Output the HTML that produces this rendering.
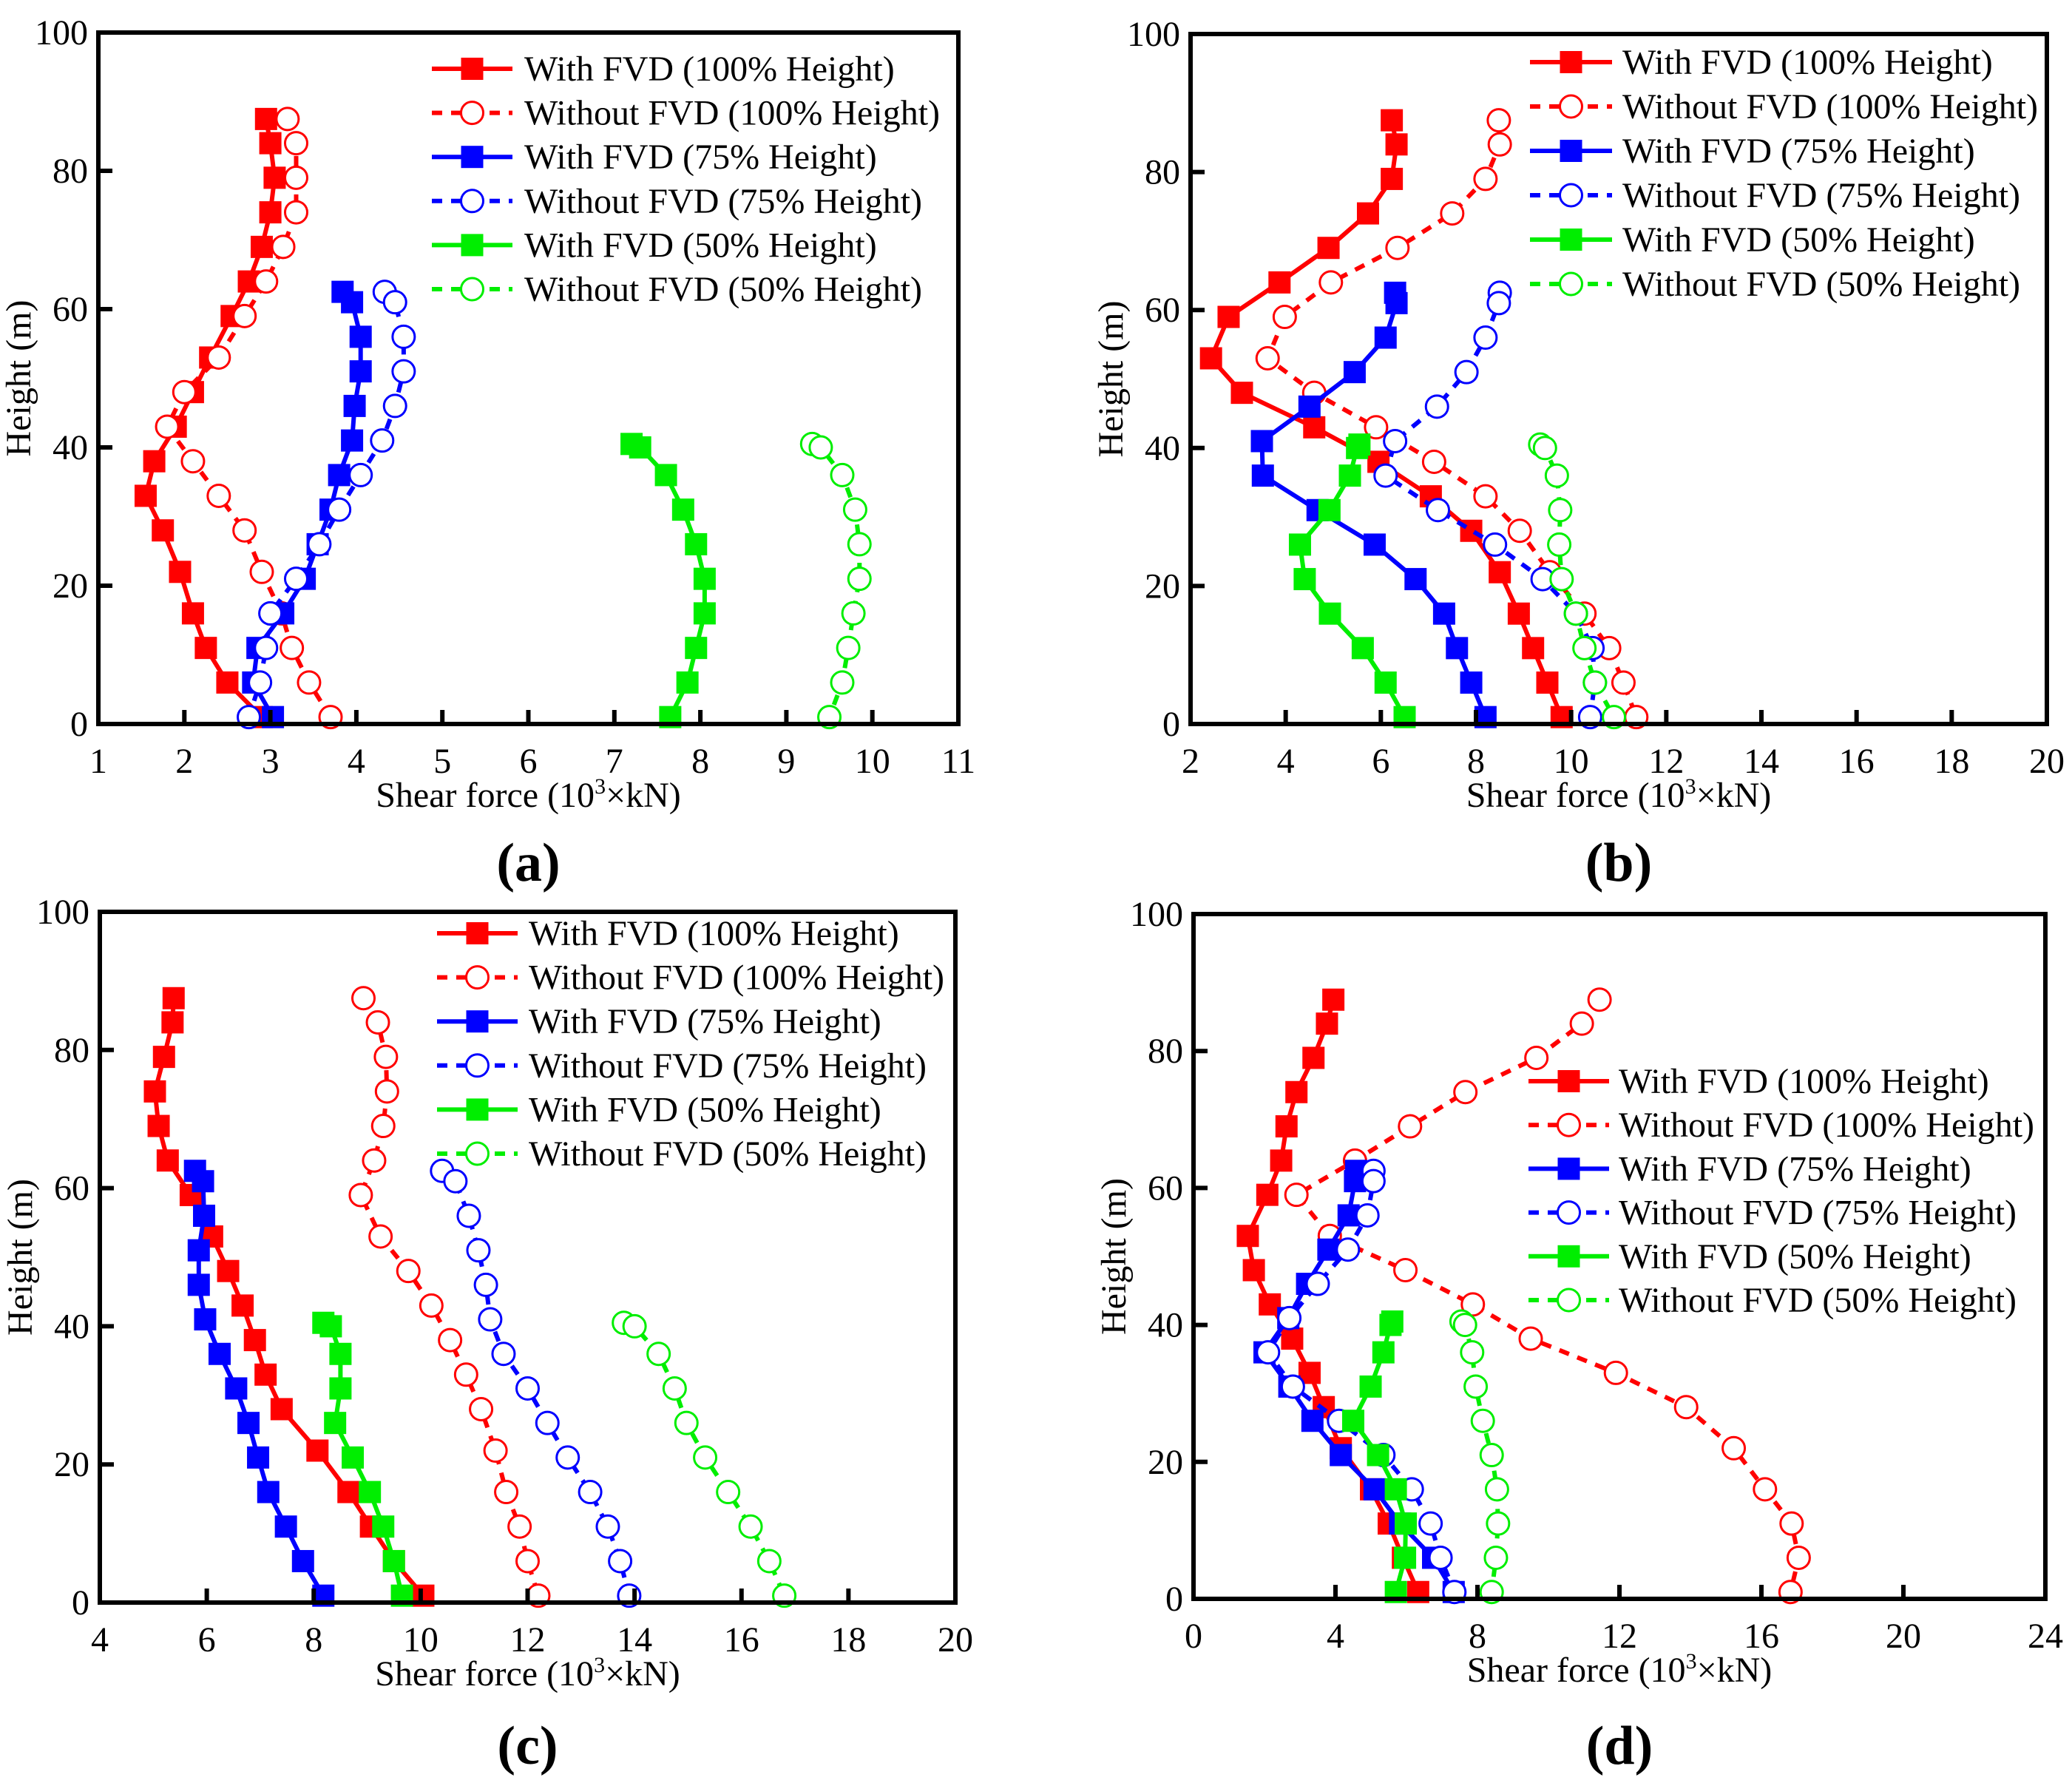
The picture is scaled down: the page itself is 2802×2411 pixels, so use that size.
<!DOCTYPE html>
<html><head><meta charset="utf-8">
<style>
html,body{margin:0;padding:0;background:#fff;}
svg{display:block;}
text{font-family:"Liberation Serif","Times New Roman",serif;}
</style></head>
<body>
<svg id="fig" width="2802" height="2411" viewBox="0 0 2802 2411" xmlns="http://www.w3.org/2000/svg" font-family="Liberation Serif, serif"></svg>
<script>
// Heights (m)
const H100=[87.5,84,79,74,69,64,59,53,48,43,38,33,28,22,16,11,6,1];
const H75=[62.5,61,56,51,46,41,36,31,26,21,16,11,6,1];
const H50=[40.5,40,36,31,26,21,16,11,6,1];
const yTicks=[0,20,40,60,80,100];
// Panel (a)
const aXTicks=[1,2,3,4,5,6,7,8,9,10,11];
const aWith100=[2.95,3.0,3.05,3.0,2.9,2.75,2.55,2.3,2.1,1.9,1.65,1.55,1.75,1.95,2.1,2.25,2.5,2.9];
const aWo100=[3.2,3.3,3.3,3.3,3.15,2.95,2.7,2.4,2.0,1.8,2.1,2.4,2.7,2.9,3.13,3.25,3.45,3.7];
const aWith75=[3.84,3.95,4.05,4.05,3.98,3.95,3.8,3.7,3.55,3.4,3.15,2.85,2.8,3.03];
const aWo75=[4.33,4.45,4.55,4.55,4.45,4.3,4.05,3.8,3.57,3.3,3.0,2.95,2.88,2.75];
const aWith50=[7.2,7.3,7.6,7.8,7.95,8.05,8.05,7.95,7.85,7.65];
const aWo50=[9.3,9.4,9.65,9.8,9.85,9.85,9.78,9.72,9.65,9.5];
// Panel (b)
const bXTicks=[2,4,6,8,10,12,14,16,18,20];
const bWith100=[6.23,6.33,6.23,5.73,4.9,3.87,2.8,2.43,3.08,4.6,5.95,7.05,7.9,8.5,8.9,9.2,9.5,9.8];
const bWo100=[8.48,8.5,8.2,7.5,6.35,4.95,3.98,3.62,4.6,5.9,7.12,8.2,8.92,9.55,10.28,10.8,11.1,11.37];
const bWith75=[6.3,6.33,6.1,5.45,4.5,3.5,3.52,4.67,5.87,6.73,7.33,7.6,7.9,8.2];
const bWo75=[8.5,8.48,8.2,7.8,7.18,6.3,6.1,7.2,8.4,9.4,10.1,10.45,10.5,10.4];
const bWith50=[5.55,5.5,5.35,4.92,4.3,4.4,4.93,5.62,6.1,6.5];
const bWo50=[9.35,9.45,9.7,9.77,9.75,9.8,10.1,10.28,10.5,10.9];
// Panel (c)
const cXTicks=[4,6,8,10,12,14,16,18,20];
const cWith100=[5.38,5.36,5.2,5.03,5.1,5.27,5.7,6.1,6.4,6.67,6.9,7.1,7.4,8.07,8.65,9.07,9.5,10.05];
const cWo100=[8.93,9.2,9.35,9.37,9.3,9.13,8.88,9.25,9.77,10.2,10.55,10.85,11.13,11.4,11.6,11.85,12.0,12.2];
const cWith75=[5.78,5.93,5.95,5.85,5.85,5.97,6.24,6.55,6.78,6.96,7.15,7.48,7.8,8.18];
const cWo75=[10.4,10.65,10.9,11.08,11.22,11.3,11.55,12.0,12.37,12.75,13.17,13.5,13.73,13.9];
const cWith50=[8.18,8.32,8.5,8.5,8.4,8.73,9.05,9.3,9.5,9.65];
const cWo50=[13.8,14.0,14.45,14.75,14.97,15.32,15.75,16.17,16.52,16.8];
// Panel (d)
const dXTicks=[0,4,8,12,16,20,24];
const dWith100=[3.94,3.76,3.38,2.9,2.62,2.47,2.08,1.53,1.7,2.15,2.78,3.27,3.67,4.15,5.0,5.5,5.9,6.33];
const dWo100=[11.44,10.94,9.66,7.66,6.1,4.55,2.9,3.84,5.97,7.87,9.5,11.9,13.88,15.22,16.1,16.85,17.05,16.82];
const dWith75=[4.58,4.55,4.37,3.8,3.2,2.67,2.0,2.7,3.35,4.15,5.1,5.82,6.75,7.33];
const dWo75=[5.07,5.07,4.9,4.35,3.5,2.7,2.1,2.8,4.1,5.35,6.15,6.68,6.96,7.35];
const dWith50=[5.6,5.55,5.35,4.99,4.5,5.2,5.7,5.98,5.96,5.7];
const dWo50=[7.55,7.65,7.85,7.95,8.15,8.4,8.55,8.58,8.52,8.4];

const legendLabels=["With FVD (100% Height)","Without FVD (100% Height)","With FVD (75% Height)","Without FVD (75% Height)","With FVD (50% Height)","Without FVD (50% Height)"];
const RED="#ff0000",BLUE="#0000ff",GREEN="#00ee00";
const NS="http://www.w3.org/2000/svg";
const FONT='"Liberation Serif", "Times New Roman", serif';
const svg=document.getElementById('fig');
function mk(tag,attrs,parent){const e=document.createElementNS(NS,tag);for(const k in attrs)e.setAttribute(k,attrs[k]);if(tag==='text')e.setAttribute('font-family',FONT);(parent||svg).appendChild(e);return e;}

const panels=[
 {id:'a',L:133,R:1296,T:44,B:979,xt:aXTicks,series:[aWith100,aWo100,aWith75,aWo75,aWith50,aWo50],lg:{x1:584,x2:693,tx:709,y0:93,dy:59.6},lab:1165},
 {id:'b',L:1610,R:2768,T:46,B:979,xt:bXTicks,series:[bWith100,bWo100,bWith75,bWo75,bWith50,bWo50],lg:{x1:2069,x2:2180,tx:2194,y0:84,dy:60},lab:1165},
 {id:'c',L:135,R:1292,T:1233,B:2167,xt:cXTicks,series:[cWith100,cWo100,cWith75,cWo75,cWith50,cWo50],lg:{x1:591,x2:700,tx:715,y0:1262,dy:59.6},lab:2359},
 {id:'d',L:1614,R:2766,T:1236,B:2162,xt:dXTicks,series:[dWith100,dWo100,dWith75,dWo75,dWith50,dWo50],lg:{x1:2067,x2:2176,tx:2189,y0:1462,dy:59.2},lab:2359}
];
const heights=[H100,H100,H75,H75,H50,H50];
const colors=[RED,RED,BLUE,BLUE,GREEN,GREEN];
const seriesNames=['with-fvd-100','without-fvd-100','with-fvd-75','without-fvd-75','with-fvd-50','without-fvd-50'];

function marker(g,x,y,filled,color){
 if(filled){const r=mk('rect',{x:x-15,y:y-15,width:30,height:30,fill:color},g);
  
  }
 else{const c=mk('circle',{cx:x,cy:y,r:15,fill:'#fff',stroke:color,'stroke-width':3},g);
  
  }
}

panels.forEach(p=>{
 const g=mk('g',{});
 
 
 const xmin=p.xt[0],xmax=p.xt[p.xt.length-1];
 const sx=v=>p.L+(v-xmin)/(xmax-xmin)*(p.R-p.L);
 const sy=v=>p.B-(v/100)*(p.B-p.T);
 p.series.forEach((vals,i)=>{
  const hs=heights[i];const filled=i%2===0;
  const sg=mk('g',{},g);
  
  
  const pts=vals.map((v,j)=>sx(v).toFixed(1)+','+sy(hs[j]).toFixed(1)).join(' ');
  const pl=mk('polyline',{points:pts,fill:'none',stroke:colors[i],'stroke-width':6,'stroke-linejoin':'round','stroke-dasharray':filled?'none':'14,12'},sg);
  
  
  vals.forEach((v,j)=>marker(sg,sx(v),sy(hs[j]),filled,colors[i]));
 });
 const fr=mk('rect',{x:p.L,y:p.T,width:p.R-p.L,height:p.B-p.T,fill:'none',stroke:'#000','stroke-width':6},g);
 
 
 p.xt.forEach(t=>{
  const x=sx(t);
  if(t!==xmin&&t!==xmax){const tl=mk('line',{x1:x,x2:x,y1:p.B,y2:p.B-19,stroke:'#000','stroke-width':6},g);
   
   }
  const tx=mk('text',{x:x,y:p.B+66,'font-size':48,'text-anchor':'middle'},g);
  tx.textContent=t;
  
  
 });
 yTicks.forEach(t=>{
  const y=sy(t);
  if(t!==0&&t!==100){const tl=mk('line',{x1:p.L,x2:p.L+19,y1:y,y2:y,stroke:'#000','stroke-width':6},g);
   
   }
  const tx=mk('text',{x:p.L-14,y:y+16,'font-size':48,'text-anchor':'end'},g);
  tx.textContent=t;
  
  
 });
 const xt=mk('text',{x:(p.L+p.R)/2,y:p.B+112,'font-size':48,'text-anchor':'middle'},g);
 xt.innerHTML='Shear force (10<tspan dy="-18" font-size="30">3</tspan><tspan dy="18">×kN)</tspan>';
 
 
 const yc=(p.T+p.B)/2, yx=p.L-92;
 const yt=mk('text',{x:yx,y:yc,'font-size':48,'text-anchor':'middle',transform:`rotate(-90 ${yx} ${yc})`},g);
 yt.textContent='Height (m)';
 
 
 const lg=mk('g',{},g);
 
 
 legendLabels.forEach((lab,i)=>{
  const y=p.lg.y0+i*p.lg.dy;const filled=i%2===0;
  const eg=mk('g',{},lg);
  
  
  mk('line',{x1:p.lg.x1,x2:p.lg.x2,y1:y,y2:y,stroke:colors[i],'stroke-width':6,'stroke-dasharray':filled?'none':'14,12'},eg);
  marker(eg,(p.lg.x1+p.lg.x2)/2,y,filled,colors[i]);
  const t=mk('text',{x:p.lg.tx,y:y+16,'font-size':48},eg);
  t.textContent=lab;
 });
 const pl=mk('text',{x:(p.L+p.R)/2,y:p.lab+26,'font-size':74,'font-weight':'bold','text-anchor':'middle'},g);
 pl.textContent='('+p.id+')';
 
 
});
</script>
</body></html>
